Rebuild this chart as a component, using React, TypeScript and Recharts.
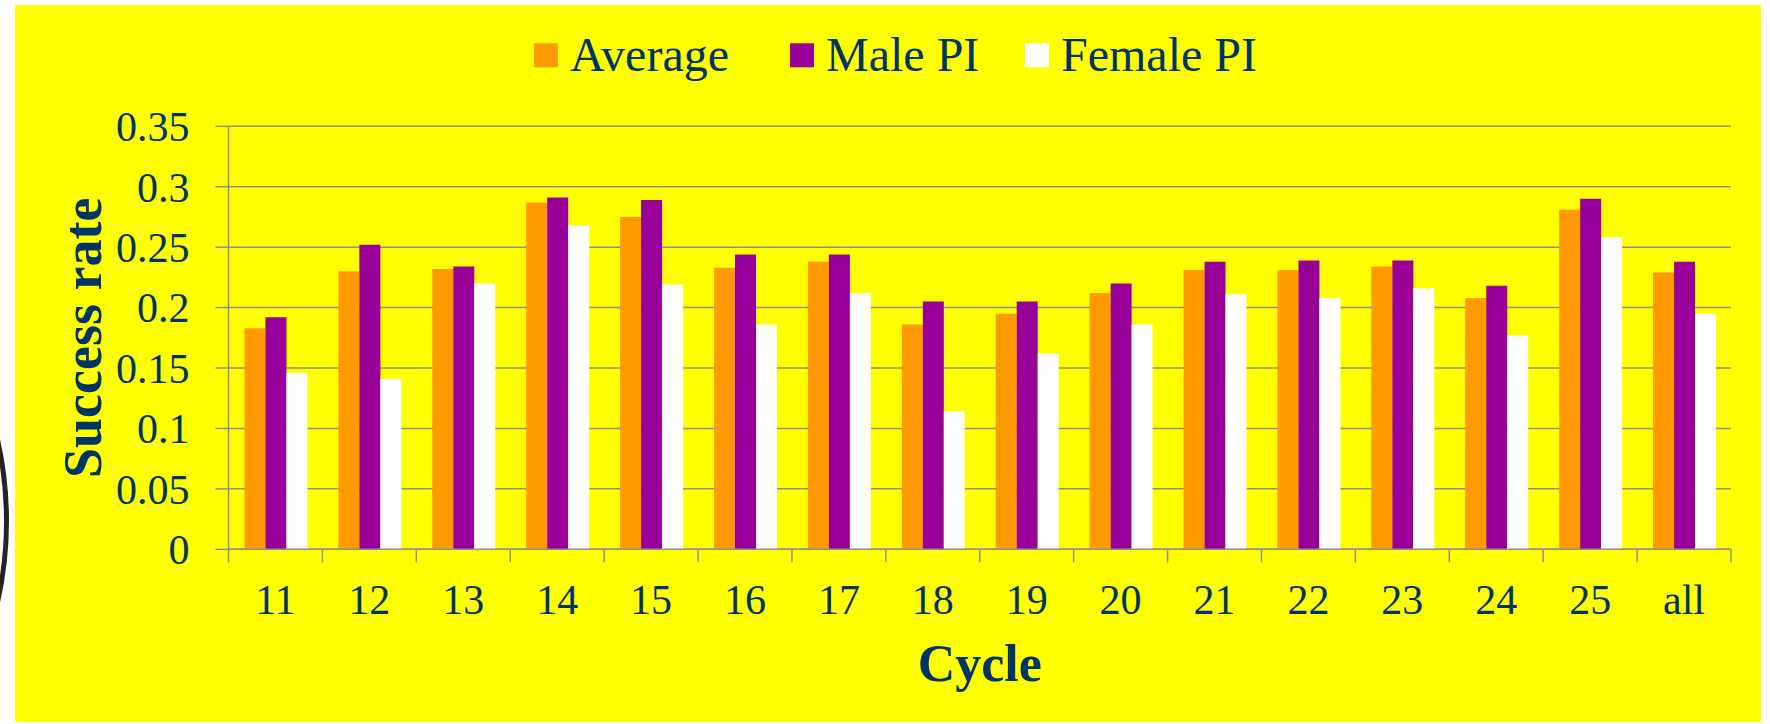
import { Bar, BarChart, CartesianGrid, Label, XAxis, YAxis } from "recharts";

const cycles = ["11", "12", "13", "14", "15", "16", "17", "18", "19", "20", "21", "22", "23", "24", "25", "all"];
const average = [0.183, 0.23, 0.232, 0.287, 0.275, 0.233, 0.238, 0.186, 0.195, 0.212, 0.231, 0.231, 0.234, 0.208, 0.281, 0.229];
const malePI = [0.192, 0.252, 0.234, 0.291, 0.289, 0.244, 0.244, 0.205, 0.205, 0.22, 0.238, 0.239, 0.239, 0.218, 0.29, 0.238];
const femalePI = [0.146, 0.141, 0.22, 0.268, 0.219, 0.186, 0.212, 0.114, 0.162, 0.186, 0.211, 0.208, 0.216, 0.177, 0.258, 0.195];
const yTicks = [0, 0.05, 0.1, 0.15, 0.2, 0.25, 0.3, 0.35];

const series = [
  { key: "average", name: "Average", color: "#FF9900" },
  { key: "male", name: "Male PI", color: "#990099" },
  { key: "female", name: "Female PI", color: "#FFFFFF" },
];

const data = cycles.map((c, i) => ({
  cycle: c,
  average: average[i],
  male: malePI[i],
  female: femalePI[i],
}));

const FONT = '"Liberation Serif", "Times New Roman", serif';
const NAVY = "#003366";
const GRID = "#8f8f8f";

const CHART_W = 1746;
const CHART_H = 717;
const Y_AXIS_W = 213.5;
const MARGIN = { top: 121.3, right: 30, bottom: 0, left: 0 };
const X_AXIS_H = 172.7;
const STEP = (CHART_W - MARGIN.left - MARGIN.right - Y_AXIS_W) / cycles.length;

// legend layout (square left edges)
const legendX = [534, 790, 1025];

function CycleTick(props: any) {
  const { x, y, payload, index } = props;
  const last = index === cycles.length - 1;
  return (
    <g>
      <line x1={x - STEP / 2} x2={x - STEP / 2} y1={y} y2={y + 13} stroke={GRID} strokeWidth={1.5} />
      {last && <line x1={x + STEP / 2} x2={x + STEP / 2} y1={y} y2={y + 13} stroke={GRID} strokeWidth={1.5} />}
      <text x={x} y={y + 64.7} textAnchor="middle" fill={NAVY} fontSize={42} fontFamily={FONT}>
        {payload.value}
      </text>
    </g>
  );
}

export default function App() {
  return (
    <div style={{ position: "absolute", left: 0, top: 0, width: 1770, height: 724, background: "#fff", overflow: "hidden" }}>
      <div
        style={{
          position: "absolute",
          left: -737,
          top: 148,
          width: 746,
          height: 746,
          boxSizing: "border-box",
          border: "5px solid #232323",
          borderRadius: "50%",
        }}
      />
      <div style={{ position: "absolute", left: 15, top: 5, width: CHART_W, height: CHART_H, background: "#FFFF00" }}>
        <BarChart
          width={CHART_W}
          height={CHART_H}
          data={data}
          margin={MARGIN}
          barCategoryGap="17%"
          barGap={0}
        >
          <CartesianGrid vertical={false} stroke={GRID} strokeWidth={1.5} />
          <XAxis
            dataKey="cycle"
            interval={0}
            height={X_AXIS_H}
            tickLine={false}
            tickSize={0}
            tickMargin={0}
            axisLine={{ stroke: GRID, strokeWidth: 1.5 }}
            tick={<CycleTick />}
          >
            <Label
              content={(p: any) => {
                const vb = p.viewBox;
                return (
                  <text
                    x={vb.x + vb.width / 2}
                    y={vb.y + 131.7}
                    textAnchor="middle"
                    fill={NAVY}
                    fontSize={52}
                    fontWeight="bold"
                    fontFamily={FONT}
                  >
                    Cycle
                  </text>
                );
              }}
            />
          </XAxis>
          <YAxis
            width={Y_AXIS_W}
            domain={[0, 0.35]}
            ticks={yTicks}
            interval={0}
            tickSize={13}
            tickMargin={26}
            axisLine={{ stroke: GRID, strokeWidth: 1.5 }}
            tickLine={{ stroke: GRID, strokeWidth: 1.5 }}
            tick={{ fill: NAVY, fontSize: 42, fontFamily: FONT }}
          >
            <Label
              content={(p: any) => {
                const vb = p.viewBox;
                const cx = vb.x + 85.7;
                const cy = vb.y + vb.height / 2;
                return (
                  <text
                    x={cx}
                    y={cy}
                    transform={`rotate(-90, ${cx}, ${cy})`}
                    textAnchor="middle"
                    fill={NAVY}
                    fontSize={54}
                    fontWeight="bold"
                    fontFamily={FONT}
                  >
                    Success rate
                  </text>
                );
              }}
            />
          </YAxis>
          {series.map((s) => (
            <Bar key={s.key} dataKey={s.key} name={s.name} fill={s.color} isAnimationActive={false} />
          ))}
        </BarChart>
        <svg style={{ position: "absolute", left: 0, top: 0 }} width={CHART_W} height={100}>
          {series.map((s, i) => (
            <g key={s.key}>
              <rect x={legendX[i] - 15} y={38.3} width={24} height={24} fill={s.color} />
              <text x={legendX[i] - 15 + 36} y={65.7} fill={NAVY} fontSize={48} fontFamily={FONT}>
                {s.name}
              </text>
            </g>
          ))}
        </svg>
      </div>
    </div>
  );
}
